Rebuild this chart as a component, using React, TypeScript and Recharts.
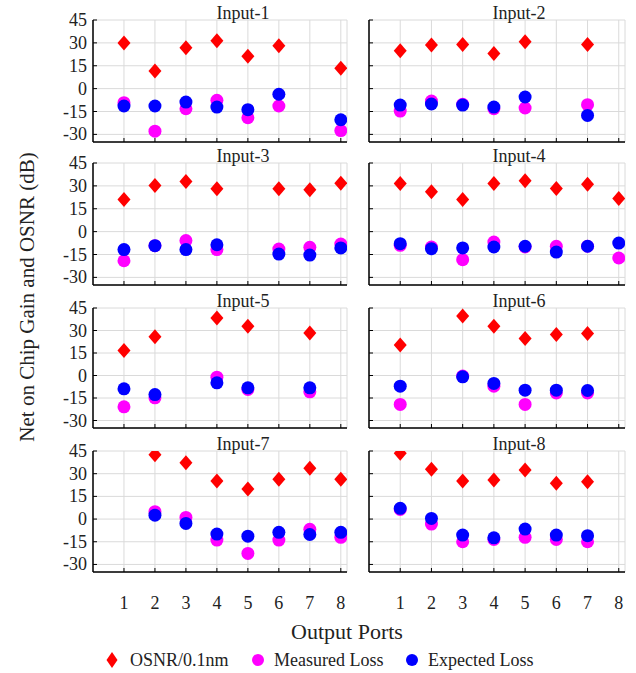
import React from 'react';
import { ScatterChart, Scatter, XAxis, YAxis, CartesianGrid } from 'recharts';

const ports = [1, 2, 3, 4, 5, 6, 7, 8];
const yTicks = [-30, -15, 0, 15, 30, 45];
const titles = ['Input-1', 'Input-2', 'Input-3', 'Input-4', 'Input-5', 'Input-6', 'Input-7', 'Input-8'];

const osnr1 = [30, 11.6, 26.8, 31.4, 21.3, 28.1, null, 13.4];
const measured1 = [-9.2, -27.9, -13.2, -7.7, -19.1, -11.4, null, -27.5];
const expected1 = [-11.4, -11.4, -8.8, -12.1, -13.8, -3.7, null, -20.4];

const osnr2 = [24.8, 28.6, 29, 23.1, 30.8, null, 29, null];
const measured2 = [-14.7, -8.1, -10.3, -13.2, -12.7, null, -10.5, null];
const expected2 = [-10.8, -10.1, -10.8, -12.1, -5.5, null, -17.6, null];

const osnr3 = [21, 30.3, 32.9, 28.1, null, 28.1, 27.4, 31.8];
const measured3 = [-19.1, -9.2, -5.9, -11.8, null, -11.4, -10.3, -8.1];
const expected3 = [-11.8, -9.2, -11.8, -8.6, null, -14.7, -15.4, -10.7];

const osnr4 = [31.6, 26.1, 21.1, 31.6, 33.3, 28.3, 31.1, 21.7];
const measured4 = [-9.0, -10.1, -18.4, -6.8, -10.1, -9.6, -9.6, -17.3];
const expected4 = [-7.9, -11.2, -10.7, -10.1, -9.6, -13.4, -9.6, -7.5];

const osnr5 = [16.7, 25.8, null, 38.4, 32.9, null, 28.4, null];
const measured5 = [-20.9, -14.9, null, -1.1, -9.3, null, -10.9, null];
const expected5 = [-8.9, -12.7, null, -4.9, -8.2, null, -8.2, null];

const osnr6 = [20.4, null, 39.6, 32.9, 24.7, 27.3, 28, null];
const measured6 = [-19.3, null, -0.4, -7.1, -19.3, -11.6, -11.6, null];
const expected6 = [-7.1, null, -0.9, -5.3, -9.8, -9.8, -10, null];

const osnr7 = [null, 42.6, 37.3, 25.2, 19.9, 26.3, 33.6, 26.3];
const measured7 = [null, 4.9, 1.1, -13.9, -22.7, -13.9, -6.8, -12.1];
const expected7 = [null, 2.6, -2.9, -9.9, -11.3, -8.8, -10.2, -8.8];

const osnr8 = [43.5, 32.9, 25.2, 25.8, 32.5, 23.6, 24.7, null];
const measured8 = [6.4, -3.3, -15, -13.5, -12.1, -13.5, -15, null];
const expected8 = [7.1, 0.4, -10.6, -12.4, -6.6, -10.6, -11, null];

const osnrAll = [osnr1, osnr2, osnr3, osnr4, osnr5, osnr6, osnr7, osnr8];
const measuredAll = [measured1, measured2, measured3, measured4, measured5, measured6, measured7, measured8];
const expectedAll = [expected1, expected2, expected3, expected4, expected5, expected6, expected7, expected8];

const FONT = "'Liberation Serif', 'Times New Roman', serif";
const TEXT = '#222';
const RED = '#ff0000';
const MAGENTA = '#ff00ff';
const BLUE = '#0000ff';

const colLeft = [93, 369];
const colWidth = [254, 256];
const rowTop = [20, 163, 308, 451];
const rowHeight = [122, 122, 120, 121];

const toPoints = (vals: (number | null)[]) =>
  vals
    .map((v, i) => (v === null ? null : { x: ports[i], y: v }))
    .filter((p) => p !== null) as { x: number; y: number }[];

const Diamond = (p: any) => (
  <path
    d={`M${p.cx},${p.cy - 7.5}L${p.cx + 6.5},${p.cy}L${p.cx},${p.cy + 7.5}L${p.cx - 6.5},${p.cy}Z`}
    fill={RED}
  />
);
const MagentaDot = (p: any) => <circle cx={p.cx} cy={p.cy} r={6.5} fill={MAGENTA} />;
const BlueDot = (p: any) => <circle cx={p.cx} cy={p.cy} r={6.5} fill={BLUE} />;

const ML = 50;
const MT = 25;
const MR = 10;
const XH = 45;

function Panel({ idx }: { idx: number }) {
  const col = idx % 2;
  const row = Math.floor(idx / 2);
  const plotLeft = colLeft[col];
  const plotW = colWidth[col];
  const plotTop = rowTop[row];
  const plotH = rowHeight[row];
  const width = ML + plotW + MR;
  const height = MT + plotH + XH;
  const showX = row === 3;
  const showY = col === 0;

  const xTick = (props: any) => {
    const { x, y, payload } = props;
    return (
      <g>
        <line x1={x} y1={y} x2={x} y2={y - 4} stroke="#000" strokeWidth={1} />
        {showX && (
          <text x={x} y={y + 31} textAnchor="middle" dominantBaseline="central" style={{ fontFamily: FONT, fontSize: 18 }} fill={TEXT}>
            {payload.value}
          </text>
        )}
      </g>
    );
  };
  const yTick = (props: any) => {
    const { x, y, payload } = props;
    return (
      <g>
        <line x1={x} y1={y} x2={x + 4} y2={y} stroke="#000" strokeWidth={1} />
        {showY && (
          <text x={x - 6} y={y} textAnchor="end" dominantBaseline="central" style={{ fontFamily: FONT, fontSize: 18 }} fill={TEXT}>
            {payload.value}
          </text>
        )}
      </g>
    );
  };

  return (
    <>
      <div style={{ position: 'absolute', left: plotLeft - ML, top: plotTop - MT }}>
        <ScatterChart width={width} height={height} margin={{ top: MT, right: MR, bottom: 0, left: 0 }}>
          <CartesianGrid stroke="#dadada" strokeWidth={1} />
          <XAxis
            type="number"
            dataKey="x"
            domain={[0, 8.2]}
            ticks={ports}
            allowDataOverflow
            height={XH}
            axisLine={{ stroke: '#000', strokeWidth: 1.5 }}
            tickLine={false}
            tickSize={0}
            tickMargin={0}
            tick={xTick}
            interval={0}
          />
          <YAxis
            type="number"
            dataKey="y"
            domain={[-35, 45]}
            ticks={yTicks}
            allowDataOverflow
            width={ML}
            axisLine={{ stroke: '#000', strokeWidth: 1.5 }}
            tickLine={false}
            tickSize={0}
            tickMargin={0}
            tick={yTick}
            interval={0}
          />
          <Scatter data={toPoints(osnrAll[idx])} shape={Diamond} isAnimationActive={false} />
          <Scatter data={toPoints(measuredAll[idx])} shape={MagentaDot} isAnimationActive={false} />
          <Scatter data={toPoints(expectedAll[idx])} shape={BlueDot} isAnimationActive={false} />
        </ScatterChart>
      </div>
      <div
        style={{
          position: 'absolute',
          left: plotLeft + 150,
          top: plotTop - 7,
          transform: 'translate(-50%, -50%)',
          fontFamily: FONT,
          fontSize: 18,
          color: TEXT,
          whiteSpace: 'nowrap',
          lineHeight: 1,
        }}
      >
        {titles[idx]}
      </div>
    </>
  );
}

const legendItems = [
  { label: 'OSNR/0.1nm', color: RED, kind: 'diamond', x: 112 },
  { label: 'Measured Loss', color: MAGENTA, kind: 'circle', x: 258 },
  { label: 'Expected Loss', color: BLUE, kind: 'circle', x: 412 },
];

export default function App() {
  return (
    <div style={{ position: 'absolute', left: 0, top: 0, width: 636, height: 673, background: '#fff', overflow: 'hidden' }}>
      {[0, 1, 2, 3, 4, 5, 6, 7].map((i) => (
        <Panel key={i} idx={i} />
      ))}
      <div
        style={{
          position: 'absolute',
          left: 27,
          top: 297,
          transform: 'translate(-50%, -50%) rotate(-90deg)',
          fontFamily: FONT,
          fontSize: 21,
          color: TEXT,
          whiteSpace: 'nowrap',
          lineHeight: 1,
        }}
      >
        Net on Chip Gain and OSNR (dB)
      </div>
      <div
        style={{
          position: 'absolute',
          left: 347,
          top: 632,
          transform: 'translate(-50%, -50%)',
          fontFamily: FONT,
          fontSize: 22,
          color: TEXT,
          whiteSpace: 'nowrap',
          lineHeight: 1,
        }}
      >
        Output Ports
      </div>
      {legendItems.map((it) => (
        <div key={it.label} style={{ position: 'absolute', left: it.x - 8, top: 660, transform: 'translateY(-50%)', display: 'flex', alignItems: 'center' }}>
          <svg width={16} height={18} style={{ display: 'block' }}>
            {it.kind === 'diamond' ? (
              <path d="M8,1L13.5,9L8,17L2.5,9Z" fill={it.color} />
            ) : (
              <circle cx={8} cy={9} r={6} fill={it.color} />
            )}
          </svg>
          <span style={{ marginLeft: it.kind === 'diamond' ? 10 : 8, fontFamily: FONT, fontSize: 18, color: TEXT, whiteSpace: 'nowrap', lineHeight: 1 }}>
            {it.label}
          </span>
        </div>
      ))}
    </div>
  );
}
